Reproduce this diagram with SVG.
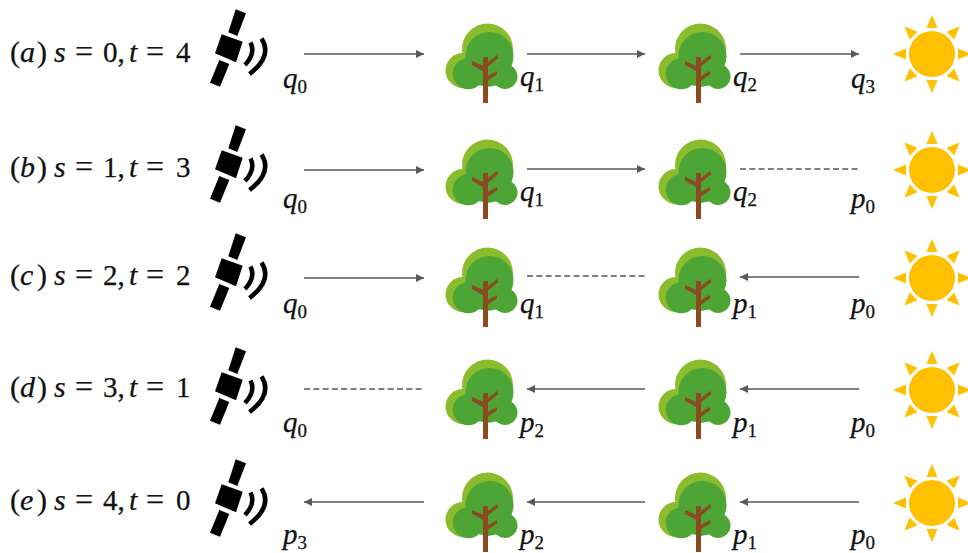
<svg xmlns="http://www.w3.org/2000/svg" width="968" height="553" viewBox="0 0 968 553">
<style>
text{font-family:"Liberation Serif","Times New Roman",serif;fill:#111;stroke:#111;stroke-width:.25}
.l{font-size:30px;font-style:italic}
.m{font-size:29px;font-style:italic}
.u{font-style:normal;font-size:29px}
.p{font-style:normal;font-size:30px}
.e{font-style:normal;font-size:32px}
.s{font-size:19px;font-style:normal}
.c{stroke:#595959;stroke-width:1.4;fill:none}
.a{marker-end:url(#h)}
.d{stroke:#555;stroke-dasharray:6 3.3;stroke-width:1.3}
</style>
<defs>
<marker id="h" markerUnits="userSpaceOnUse" markerWidth="9" markerHeight="9" refX="8" refY="4" orient="auto"><path d="M0 0L8 4L0 8Z" fill="#595959"/></marker>
<g id="sat">
<path d="M235.7 9.3L246 13.3L237.3 36L228.3 32.3ZM221.7 34.3L242.7 41.7L236 62.3L215 53.3ZM219.3 60L229.3 64L220 86.7L210 82.7Z" fill="#000"/>
<path d="M250.5 42.5Q256 53 245 65M261.5 38.5Q273 56 249.5 74" fill="none" stroke="#000" stroke-width="4.5"/>
</g>
<g id="tree">
<circle cx="487.5" cy="49" r="25.5" fill="#8ABC2E"/>
<circle cx="463" cy="70.5" r="17.5" fill="#8ABC2E"/>
<circle cx="489.5" cy="56" r="24" fill="#4CA535"/>
<circle cx="468.3" cy="73.7" r="15.5" fill="#4CA535"/>
<circle cx="505" cy="76.5" r="12.5" fill="#4CA535"/>
<path d="M468 62H510L505 80H470Z M478 80H498V85L488 87L478 85Z" fill="#4CA535"/>
<path d="M483 103V71L471.5 64.5L472.5 61L483 66V57H488V62L497 55L498.5 58L488 66.5V76L496.5 71L497.5 74L488 80.5V103Z" fill="#8B4A22"/>
</g>
<g id="sun" fill="#FFC000">
<circle cx="932" cy="54" r="23"/>
<g id="ray2"><path id="ray" d="M932 15L937.5 28H926.5Z"/><use href="#ray" transform="rotate(90 932 54)"/><use href="#ray" transform="rotate(180 932 54)"/><use href="#ray" transform="rotate(270 932 54)"/></g>
<use href="#ray2" transform="rotate(45 932 54)"/>
</g>
</defs>
<g id="connectors">
<path class="c a" d="M304 54H424"/><path class="c a" d="M527 54H645"/><path class="c a" d="M740 54H859"/>
<path class="c a" d="M304 170H424"/><path class="c a" d="M527 169H645"/><path class="c d" d="M740 169H859"/>
<path class="c a" d="M304 278H424"/><path class="c d" d="M527 276H645"/><path class="c a" d="M859 277H740"/>
<path class="c d" d="M304 389H424"/><path class="c a" d="M645 389H527"/><path class="c a" d="M859 389H740"/>
<path class="c a" d="M424 502H304"/><path class="c a" d="M645 502H527"/><path class="c a" d="M859 502H740"/>
</g>
<g id="row-a">
<text id="label-a" class="l" y="62"><tspan class="p" x="10">(</tspan><tspan x="20">a</tspan><tspan class="p" x="37">)</tspan><tspan x="54">s</tspan><tspan class="e" x="75">=</tspan><tspan class="u" x="103">0,</tspan><tspan x="129">t</tspan><tspan class="e" x="146">=</tspan><tspan class="u" x="176">4</tspan></text>
<g id="sat-a"><use href="#sat"/></g><g id="tree-a1"><use href="#tree"/></g><g id="tree-a2"><use href="#tree" x="213"/></g><g id="sun-a"><use href="#sun"/></g>
<text class="m" x="283" y="88">q<tspan class="s" dy="5">0</tspan></text><text class="m" x="520" y="86">q<tspan class="s" dy="5">1</tspan></text><text class="m" x="733" y="86">q<tspan class="s" dy="5">2</tspan></text><text class="m" x="851" y="88">q<tspan class="s" dy="5">3</tspan></text>
</g>
<g id="row-b">
<text id="label-b" class="l" y="177"><tspan class="p" x="10">(</tspan><tspan x="20">b</tspan><tspan class="p" x="37">)</tspan><tspan x="54">s</tspan><tspan class="e" x="75">=</tspan><tspan class="u" x="103">1,</tspan><tspan x="129">t</tspan><tspan class="e" x="146">=</tspan><tspan class="u" x="176">3</tspan></text>
<g id="sat-b"><use href="#sat" y="116"/></g><g id="tree-b1"><use href="#tree" y="116"/></g><g id="tree-b2"><use href="#tree" x="213" y="116"/></g><g id="sun-b"><use href="#sun" y="116"/></g>
<text class="m" x="283" y="208">q<tspan class="s" dy="5">0</tspan></text><text class="m" x="520" y="201">q<tspan class="s" dy="5">1</tspan></text><text class="m" x="733" y="201">q<tspan class="s" dy="5">2</tspan></text><text class="m" x="851" y="208">p<tspan class="s" dy="5">0</tspan></text>
</g>
<g id="row-c">
<text id="label-c" class="l" y="285"><tspan class="p" x="10">(</tspan><tspan x="20">c</tspan><tspan class="p" x="37">)</tspan><tspan x="54">s</tspan><tspan class="e" x="75">=</tspan><tspan class="u" x="103">2,</tspan><tspan x="129">t</tspan><tspan class="e" x="146">=</tspan><tspan class="u" x="176">2</tspan></text>
<g id="sat-c"><use href="#sat" y="224"/></g><g id="tree-c1"><use href="#tree" y="224"/></g><g id="tree-c2"><use href="#tree" x="213" y="224"/></g><g id="sun-c"><use href="#sun" y="224"/></g>
<text class="m" x="283" y="313">q<tspan class="s" dy="5">0</tspan></text><text class="m" x="520" y="313">q<tspan class="s" dy="5">1</tspan></text><text class="m" x="733" y="313">p<tspan class="s" dy="5">1</tspan></text><text class="m" x="851" y="313">p<tspan class="s" dy="5">0</tspan></text>
</g>
<g id="row-d">
<text id="label-d" class="l" y="397"><tspan class="p" x="10">(</tspan><tspan x="20">d</tspan><tspan class="p" x="37">)</tspan><tspan x="54">s</tspan><tspan class="e" x="75">=</tspan><tspan class="u" x="103">3,</tspan><tspan x="129">t</tspan><tspan class="e" x="146">=</tspan><tspan class="u" x="176">1</tspan></text>
<g id="sat-d"><use href="#sat" y="338"/></g><g id="tree-d1"><use href="#tree" y="336"/></g><g id="tree-d2"><use href="#tree" x="213" y="336"/></g><g id="sun-d"><use href="#sun" y="336"/></g>
<text class="m" x="283" y="432">q<tspan class="s" dy="5">0</tspan></text><text class="m" x="520" y="432">p<tspan class="s" dy="5">2</tspan></text><text class="m" x="733" y="432">p<tspan class="s" dy="5">1</tspan></text><text class="m" x="851" y="432">p<tspan class="s" dy="5">0</tspan></text>
</g>
<g id="row-e">
<text id="label-e" class="l" y="510"><tspan class="p" x="10">(</tspan><tspan x="20">e</tspan><tspan class="p" x="37">)</tspan><tspan x="54">s</tspan><tspan class="e" x="75">=</tspan><tspan class="u" x="103">4,</tspan><tspan x="129">t</tspan><tspan class="e" x="146">=</tspan><tspan class="u" x="176">0</tspan></text>
<g id="sat-e"><use href="#sat" y="450"/></g><g id="tree-e1"><use href="#tree" y="449"/></g><g id="tree-e2"><use href="#tree" x="213" y="449"/></g><g id="sun-e"><use href="#sun" y="449"/></g>
<text class="m" x="283" y="544">p<tspan class="s" dy="5">3</tspan></text><text class="m" x="520" y="544">p<tspan class="s" dy="5">2</tspan></text><text class="m" x="733" y="544">p<tspan class="s" dy="5">1</tspan></text><text class="m" x="851" y="544">p<tspan class="s" dy="5">0</tspan></text>
</g>
</svg>
